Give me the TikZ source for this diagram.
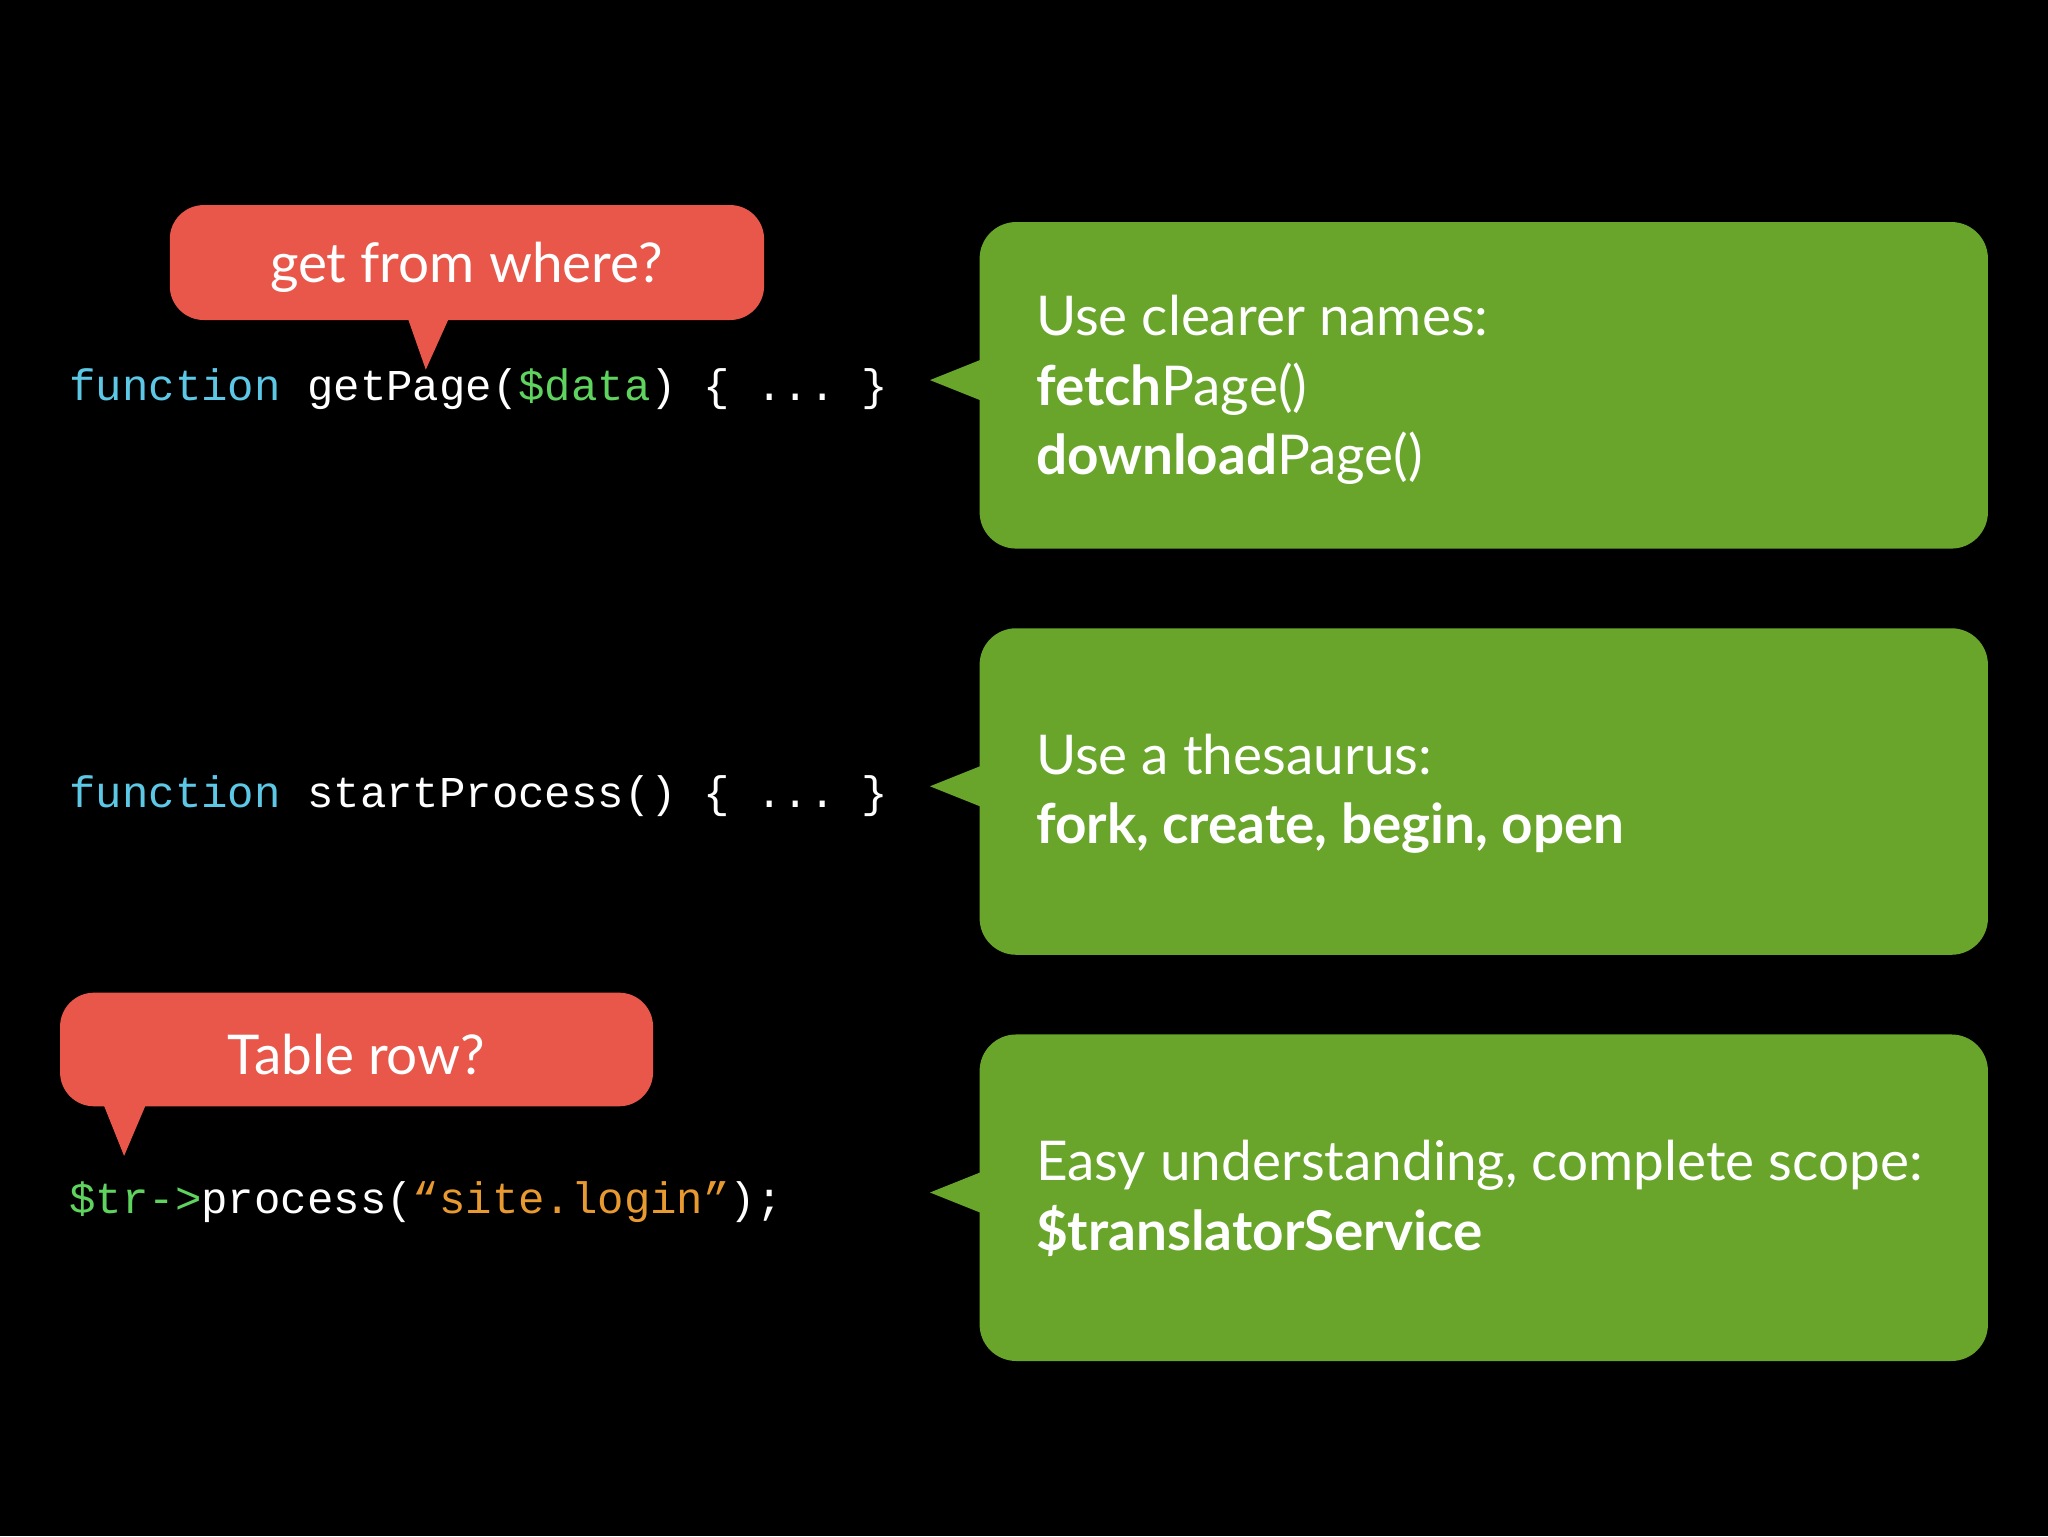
\documentclass[tikz,border=0pt]{standalone}
\usepackage{fontspec}
\setmainfont{Lato}
\setmonofont{Liberation Mono}
\definecolor{grn}{HTML}{69A52A}
\definecolor{rd}{HTML}{E8574A}
\definecolor{kw}{HTML}{5CC8E6}
\definecolor{vr}{HTML}{5ED35E}
\definecolor{st}{HTML}{E89A30}
\begin{document}
\begin{tikzpicture}[x=1pt,y=-1pt,
  gbox/.style={fill=grn,rounded corners=28pt},
  rbox/.style={fill=rd,rounded corners=26pt},
  code/.style={anchor=base west,inner sep=0,text=white,font=\fontsize{33.7}{40}\selectfont\ttfamily},
  gtxt/.style={anchor=north west,inner sep=0,text=white,align=left,font=\fontsize{42}{53}\selectfont},
  rtxt/.style={inner sep=0,text=white,font=\fontsize{42}{50}\selectfont}]
\fill[black] (0,0) rectangle (1568,1176);
\useasboundingbox (0,0) rectangle (1568,1176);
% green boxes
\foreach \n/\t in {g1/170,g2/481,g3/792}{
  \fill[gbox] (750,\t) rectangle (1522,\t+250);
  \fill[grn] (752,\t+105) -- (712,\t+121) -- (752,\t+137) -- cycle;
}
% red bubbles
\fill[rbox] (130,157) rectangle (585,245);
\fill[rd] (312,243) -- (326,283) -- (344,243) -- cycle;
\fill[rbox] (46,760) rectangle (500,847);
\fill[rd] (79,845) -- (95,885) -- (112,845) -- cycle;
\node[rtxt] (r1) at (357,205) {get from where?};
\node[rtxt] (r2) at (273,807) {Table row?};
% code
\node[code] (c1) at (53,307) {\textcolor{kw}{function} getPage(\textcolor{vr}{\$data}) \{ ... \}};
\node[code] (c2) at (53,618) {\textcolor{kw}{function} startProcess() \{ ... \}};
\node[code] (c3) at (53,929) {\textcolor{vr}{\$tr->}process(\textcolor{st}{“site.login”});};
% green texts
\node[gtxt] (t1) at (793,226) {Use clearer names:\\\textbf{fetch}Page()\\\textbf{download}Page()};
\node[gtxt] (t2) at (793,562) {Use a thesaurus:\\\textbf{fork, create, begin, open}};
\node[gtxt] (t3) at (793,873) {Easy understanding, complete scope:\\\textbf{\$translatorService}};
\end{tikzpicture}
\end{document}
